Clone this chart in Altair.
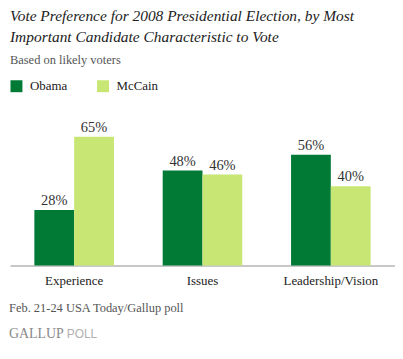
import altair as alt
import pandas as pd

categories = ["Experience", "Issues", "Leadership/Vision"]
series = ["Obama", "McCain"]
obama = [28, 48, 56]
mccain = [65, 46, 40]
colors = ["#007a35", "#c8e673"]

title_lines = ["Vote Preference for 2008 Presidential Election, by Most",
               "Important Candidate Characteristic to Vote"]
subtitle = "Based on likely voters"
footer = "Feb. 21-24 USA Today/Gallup poll"

rows = []
for c, o, m in zip(categories, obama, mccain):
    rows.append({"cat": c, "series": "Obama", "value": o, "label": f"{o}%"})
    rows.append({"cat": c, "series": "McCain", "value": m, "label": f"{m}%"})
df = pd.DataFrame(rows)

SERIF = "Liberation Serif"
W, H = 387, 199

x = alt.X("cat:N", sort=categories, title=None,
          scale=alt.Scale(paddingInner=0.38, paddingOuter=0.19),
          axis=alt.Axis(labelAngle=0, labelFont=SERIF, labelFontSize=13, labelColor="#222",
                        ticks=False, labelPadding=9, domainColor="#c8c8c8", domainWidth=2))
xo = alt.XOffset("series:N", sort=series, scale=alt.Scale(paddingInner=0, paddingOuter=0))
y = alt.Y("value:Q", scale=alt.Scale(domain=[0, 100]), axis=None)

bars = alt.Chart(df).mark_bar().encode(
    x=x, xOffset=xo, y=y,
    color=alt.Color("series:N", sort=series, scale=alt.Scale(domain=series, range=colors),
                    legend=alt.Legend(title=None, orient="none", legendX=0, legendY=12,
                                      direction="horizontal", symbolType="square", symbolSize=144,
                                      symbolStrokeWidth=0, labelFont=SERIF, labelFontSize=13,
                                      labelColor="#222", labelOffset=7, columnPadding=29)),
)
labels = alt.Chart(df).mark_text(baseline="alphabetic", dy=-5, font=SERIF, fontSize=14.5,
                                 color="#333").encode(x=x, xOffset=xo, y=y, text="label:N")

def txt(t, xv, yv, size, color, font=SERIF, style="normal"):
    return alt.Chart(pd.DataFrame({"t": [t]})).mark_text(
        align="left", baseline="alphabetic", font=font, fontSize=size, color=color,
        fontStyle=style).encode(text="t:N", x=alt.value(xv), y=alt.value(yv))

decor = [
    txt(title_lines[0], 0, -47, 15.5, "#222", style="italic"),
    txt(title_lines[1], 0, -26, 15.5, "#222", style="italic"),
    txt(subtitle, 0, -4, 12.5, "#555"),
    txt(footer, -1, 246, 12.5, "#555"),
    txt("GALLUP", -1, 272, 14, "#8a8a8a"),
    txt("POLL", 57, 272, 12, "#b0b0b0", font="Liberation Sans"),
]

chart = alt.layer(bars, labels, *decor).properties(
    width=W, height=H,
    autosize=alt.AutoSizeParams(type="none"),
    padding={"left": 2, "top": 59, "right": 0, "bottom": 84},
).configure_view(stroke=None)

chart.save("out.html", embed_options={"renderer": "svg", "actions": False})
